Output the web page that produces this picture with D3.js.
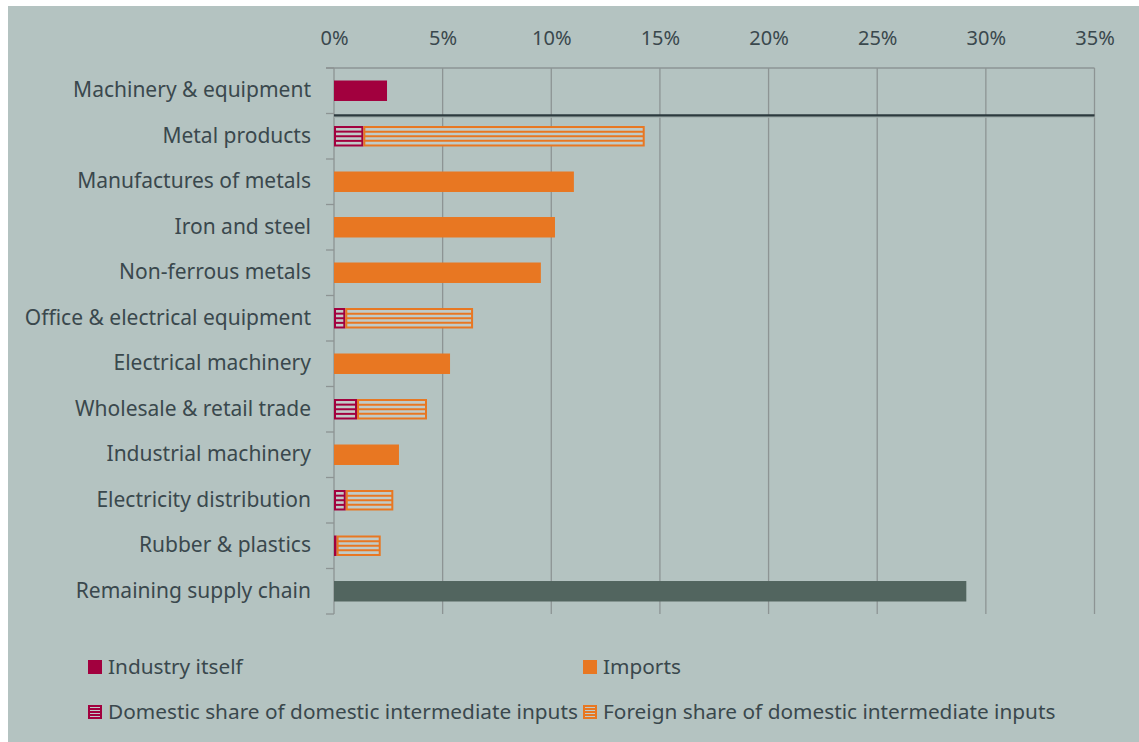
<!DOCTYPE html>
<html>
<head>
<meta charset="utf-8">
<script src="https://cdn.jsdelivr.net/npm/d3@7"></script>
<style>
  body { margin: 0; background: #fff; }
  svg text { font-family: "Noto Sans", "Open Sans", sans-serif; fill: #3a484d; }
</style>
</head>
<body>
<div class="canva"></div>
<script>
const categories = [
    "Machinery & equipment", "Metal products", "Manufactures of metals", "Iron and steel",
    "Non-ferrous metals", "Office & electrical equipment", "Electrical machinery",
    "Wholesale & retail trade", "Industrial machinery", "Electricity distribution",
    "Rubber & plastics", "Remaining supply chain"
];
// values in percent, one per category
const industryItself = [2.44, 0, 0, 0, 0, 0, 0, 0, 0, 0, 0, 0];
const domesticShare  = [0, 1.35, 0, 0, 0, 0.52, 0, 1.06, 0, 0.54, 0.12, 0];
const foreignShare   = [0, 12.95, 0, 0, 0, 5.88, 0, 3.22, 0, 2.19, 2.03, 0];
const imports        = [0, 0, 11.04, 10.17, 9.52, 0, 5.34, 0, 2.99, 0, 0, 0];
const remaining      = [0, 0, 0, 0, 0, 0, 0, 0, 0, 0, 0, 29.1];
const xTicks = [0, 5, 10, 15, 20, 25, 30, 35];

const seriesKeys = ["industry", "domestic", "foreign", "imports", "remaining"];
const colors = {
    industry: "#a2003e", domestic: "#a2003e", foreign: "#e87722",
    imports: "#e87722", remaining: "#52655f"
};
const striped = {domestic: true, foreign: true};

const legendItems = [
    {key: "industry", label: "Industry itself"},
    {key: "imports", label: "Imports"},
    {key: "domestic", label: "Domestic share of domestic intermediate inputs"},
    {key: "foreign", label: "Foreign share of domestic intermediate inputs"}
];

const rows = categories.map((c, i) => ({
    name: c,
    industry: industryItself[i],
    domestic: domesticShare[i],
    foreign: foreignShare[i],
    imports: imports[i],
    remaining: remaining[i]
}));

const svg = d3.select(".canva").append("svg")
    .attr("width", 1139)
    .attr("height", 742);

svg.append("rect")
    .attr("x", 8).attr("y", 6)
    .attr("width", 1131).attr("height", 736)
    .attr("fill", "#b4c3c1");

const plot = {left: 334, right: 1094.5, top: 68, bottom: 614};

const x = d3.scaleLinear().domain([0, 35]).range([plot.left, plot.right]);
const y = d3.scaleBand()
    .domain(categories)
    .range([plot.top, plot.bottom])
    .paddingInner(0.55)
    .paddingOuter(0.275);

// gridlines
svg.append("g")
    .selectAll("line")
    .data(xTicks)
    .join("line")
    .attr("x1", d => x(d)).attr("x2", d => x(d))
    .attr("y1", plot.top).attr("y2", plot.bottom)
    .attr("stroke", "#8d9494")
    .attr("stroke-width", 1.3);

// top axis
const xAxis = d3.axisTop(x)
    .tickValues(xTicks)
    .tickFormat(d => d + "%")
    .tickSize(0)
    .tickPadding(23);

const gx = svg.append("g")
    .attr("transform", `translate(0, ${plot.top})`)
    .call(xAxis);
gx.select(".domain").remove();
gx.selectAll("text")
    .style("font-size", "20px")
    .attr("fill", "#3a484d");

svg.append("line")
    .attr("x1", plot.left - 8).attr("x2", plot.right)
    .attr("y1", plot.top).attr("y2", plot.top)
    .attr("stroke", "#8d9494").attr("stroke-width", 1.3);

// category boundary ticks
const boundaries = d3.range(categories.length + 1).map(i => plot.top + i * y.step());
svg.append("g")
    .selectAll("line")
    .data(boundaries)
    .join("line")
    .attr("x1", plot.left - 8).attr("x2", plot.left)
    .attr("y1", d => d).attr("y2", d => d)
    .attr("stroke", "#8d9494").attr("stroke-width", 1.3);

// category labels
const yAxis = d3.axisLeft(y).tickSize(0).tickPadding(23);
const gy = svg.append("g")
    .attr("transform", `translate(${plot.left}, 0)`)
    .call(yAxis);
gy.select(".domain").remove();
gy.selectAll("text")
    .style("font-size", "21px")
    .attr("fill", "#3a484d");

// bars
const stack = d3.stack().keys(seriesKeys);
const layers = stack(rows);

function drawStripes(g, x0, y0, w, h, color) {
    g.append("rect")
        .attr("x", x0).attr("y", y0)
        .attr("width", w).attr("height", h)
        .attr("fill", "#c0cbc9")
        .attr("stroke", color)
        .attr("stroke-width", 2);
    [1, 2, 3].forEach(k => {
        g.append("line")
            .attr("x1", x0).attr("x2", x0 + w)
            .attr("y1", y0 + h * k / 4).attr("y2", y0 + h * k / 4)
            .attr("stroke", color)
            .attr("stroke-width", 2);
    });
}

const barsG = svg.append("g");
layers.forEach(layer => {
    const key = layer.key;
    layer.forEach(seg => {
        const w = x(seg[1]) - x(seg[0]);
        if (w <= 0) return;
        const bx = x(seg[0]);
        const by = y(seg.data.name);
        const bh = y.bandwidth();
        if (striped[key]) {
            drawStripes(barsG, bx + 1, by + 1, w - 2, bh - 2, colors[key]);
        } else {
            barsG.append("rect")
                .attr("x", bx).attr("y", by)
                .attr("width", w).attr("height", bh)
                .attr("fill", colors[key]);
        }
    });
});

// separator below the industry itself
const sepY = plot.top + y.step() + 1.8;
svg.append("line")
    .attr("x1", plot.left).attr("x2", plot.right)
    .attr("y1", sepY + 1.5).attr("y2", sepY + 1.5)
    .attr("stroke", "#a3b0ae").attr("stroke-width", 2);
svg.append("line")
    .attr("x1", plot.left).attr("x2", plot.right)
    .attr("y1", sepY).attr("y2", sepY)
    .attr("stroke", "#2c3a3e").attr("stroke-width", 2.2);

// legend
const legendCols = [88, 583];
const legendRows = [667, 712];
const legend = svg.append("g");
legendItems.forEach((item, i) => {
    const lx = legendCols[i % 2];
    const ly = legendRows[Math.floor(i / 2)];
    const g = legend.append("g");
    if (striped[item.key]) {
        drawStripes(g, lx + 1, ly - 6, 12, 12, colors[item.key]);
    } else {
        g.append("rect")
            .attr("x", lx).attr("y", ly - 7)
            .attr("width", 14).attr("height", 14)
            .attr("fill", colors[item.key]);
    }
    g.append("text")
        .attr("x", lx + 20)
        .attr("y", ly)
        .attr("dy", "0.35em")
        .style("font-size", "20.8px")
        .text(item.label);
});
</script>
</body>
</html>
